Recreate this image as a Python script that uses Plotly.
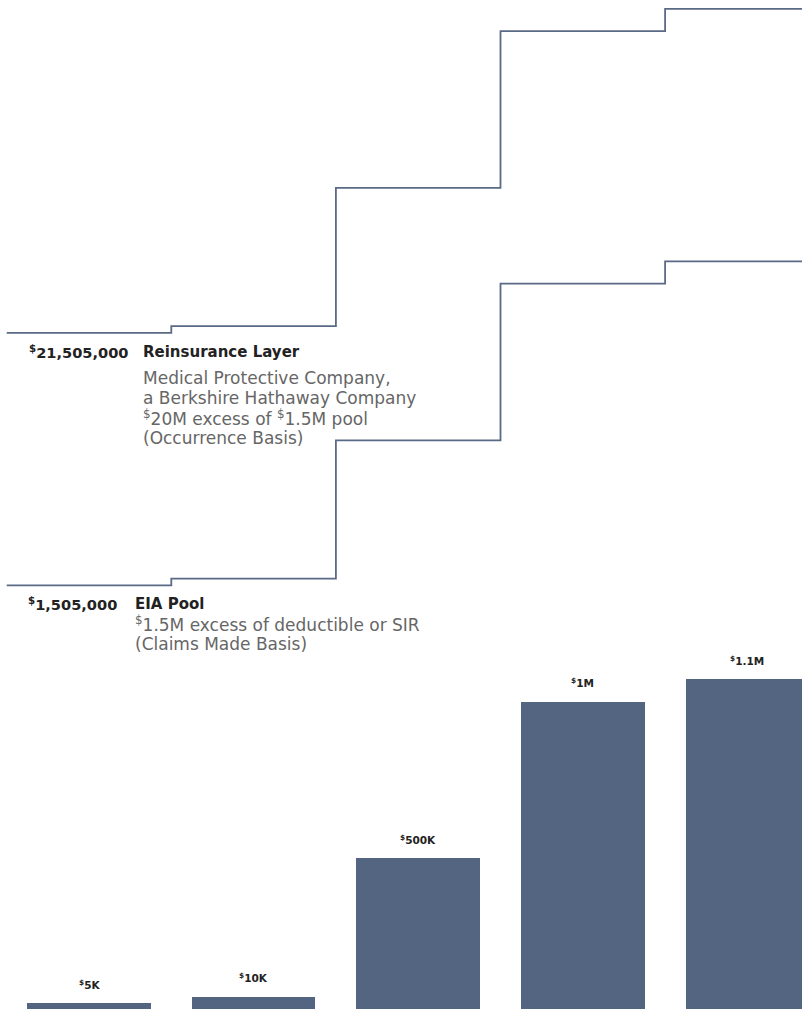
import plotly.graph_objects as go

# ---- data (chart is drawn not-to-scale) ----
deductible_labels = ["<sup>$</sup>5K", "<sup>$</sup>10K", "<sup>$</sup>500K", "<sup>$</sup>1M", "<sup>$</sup>1.1M"]
bar_heights = [5.7, 12.3, 150.7, 307.3, 329.7]          # drawn bar heights (relative units)
pool_level = 418.0                                       # EIA pool layer offset above the deductible
reinsurance_level = 670.5                                # reinsurance layer offset above the deductible

reins_title = "Reinsurance Layer"
reins_amount = "<sup>$</sup>21,505,000"
reins_lines = ["Medical Protective Company,",
               "a Berkshire Hathaway Company",
               "<sup>$</sup>20M excess of <sup>$</sup>1.5M pool",
               "(Occurrence Basis)"]
pool_title = "EIA Pool"
pool_amount = "<sup>$</sup>1,505,000"
pool_lines = ["<sup>$</sup>1.5M excess of deductible or SIR",
              "(Claims Made Basis)"]

W, H = 802, 1009
BAR_COLOR = "#536580"
LINE_COLOR = "#5a6a86"
DARK = "#222222"
GRAY = "#666666"

xs = list(range(len(bar_heights)))
step_x = [-0.5] + xs + [len(xs) - 0.5]

def step_y(offset):
    ys = [h + offset for h in bar_heights]
    return [ys[0]] + ys + [ys[-1]]

fig = go.Figure()
fig.add_trace(go.Bar(x=xs, y=bar_heights, width=0.752,
                     marker=dict(color=BAR_COLOR, line=dict(width=0)),
                     hoverinfo="skip"))
for off in (pool_level, reinsurance_level):
    fig.add_trace(go.Scatter(x=step_x, y=step_y(off), mode="lines",
                             line=dict(color=LINE_COLOR, width=1.8, shape="hvh"),
                             hoverinfo="skip"))

annotations = []
# bar value labels
for x, h, lab in zip(xs, bar_heights, deductible_labels):
    annotations.append(dict(x=x, y=h, xref="x", yref="y", text=f"<b>{lab}</b>", showarrow=False,
                            xanchor="center", yanchor="middle", yshift=19,
                            font=dict(family="DejaVu Sans", size=10.5, color=DARK)))

def px(xp, yb, s):
    # convert pixel x and text baseline y to paper coords (middle anchor)
    return xp / W, 1 - (yb - 0.346 * s) / H

def text(xp, yb, t, s, color, bold=False, anchor="left"):
    x, y = px(xp, yb, s)
    annotations.append(dict(x=x, y=y, xref="paper", yref="paper",
                            text=f"<b>{t}</b>" if bold else t, showarrow=False,
                            xanchor=anchor, yanchor="middle",
                            borderpad=0, borderwidth=0,
                            font=dict(family="DejaVu Sans", size=s, color=color)))

# reinsurance block
text(128, 357.5, reins_amount, 14.6, DARK, bold=True, anchor="right")
text(143, 357.5, reins_title, 15, DARK, bold=True)
for i, ln in enumerate(reins_lines):
    text(143, 384 + 20 * i, ln, 17, GRAY)

# pool block
text(117, 609, pool_amount, 14.6, DARK, bold=True, anchor="right")
text(135, 609, pool_title, 15, DARK, bold=True)
for i, ln in enumerate(pool_lines):
    text(135, 629.5 + 20.5 * i, ln, 17, GRAY)

fig.update_layout(
    width=W, height=H, margin=dict(l=0, r=0, t=0, b=0),
    paper_bgcolor="white", plot_bgcolor="white", showlegend=False,
    xaxis=dict(range=[-0.5407, 4.3317], visible=False, fixedrange=True),
    yaxis=dict(range=[0, H], visible=False, fixedrange=True),
    annotations=annotations, bargap=0,
)
fig.write_html("out.html", config={"displayModeBar": False},
               post_script="document.body.style.margin='0';document.body.style.overflow='hidden';")
